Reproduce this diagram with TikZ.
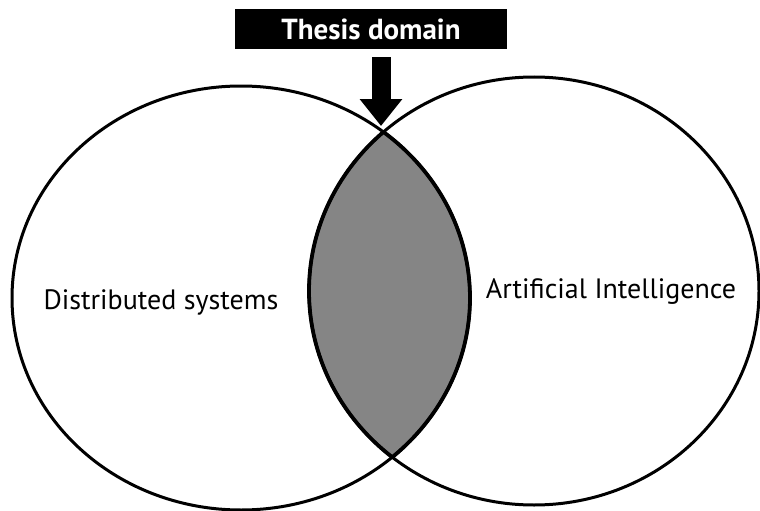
\documentclass[tikz,border=0pt]{standalone}
\usepackage{fontspec}
\setmainfont{PT Sans}
\usetikzlibrary{arrows.meta}
\tikzset{
  setline/.style={line width=3pt},
  lensline/.style={line width=3.8pt},
  lensfill/.style={fill=lensgray},
  label/.style={font=\fontsize{28}{32}\selectfont, inner sep=0pt},
  titlebox/.style={fill=black, text=white, inner sep=0pt,
    minimum width=272pt, minimum height=40pt,
    font=\fontsize{29}{32}\selectfont\bfseries},
  pointer/.style={line width=19pt, -{Triangle[width=41pt,length=27pt]}}
}
\definecolor{lensgray}{HTML}{858585}
\begin{document}
\begin{tikzpicture}[x=1pt, y=-1pt]
  \useasboundingbox (0,0) rectangle (760,511);
  % the two sets
  \def\leftset{(241,298) ellipse [x radius=229pt, y radius=212pt]}
  \def\rightset{(534,291) ellipse [x radius=225pt, y radius=214pt]}
  % shaded intersection
  \begin{scope}
    \clip \leftset;
    \fill[lensfill] \rightset;
    \draw[lensline] \rightset;
  \end{scope}
  \begin{scope}
    \clip \rightset;
    \draw[lensline] \leftset;
  \end{scope}
  \draw[setline] \leftset;
  \draw[setline] \rightset;
  % set labels
  \node[label] (ds) at (161,302) {Distributed systems};
  \node[label] (ai) at (611,292) {Artificial Intelligence};
  % title and pointer to the intersection
  \node[titlebox] (title) at (371,29) {Thesis domain};
  \coordinate (tip) at (381,126);
  \draw[pointer] ([yshift=-8pt]tip |- title.south) -- (tip);
\end{tikzpicture}
\end{document}
